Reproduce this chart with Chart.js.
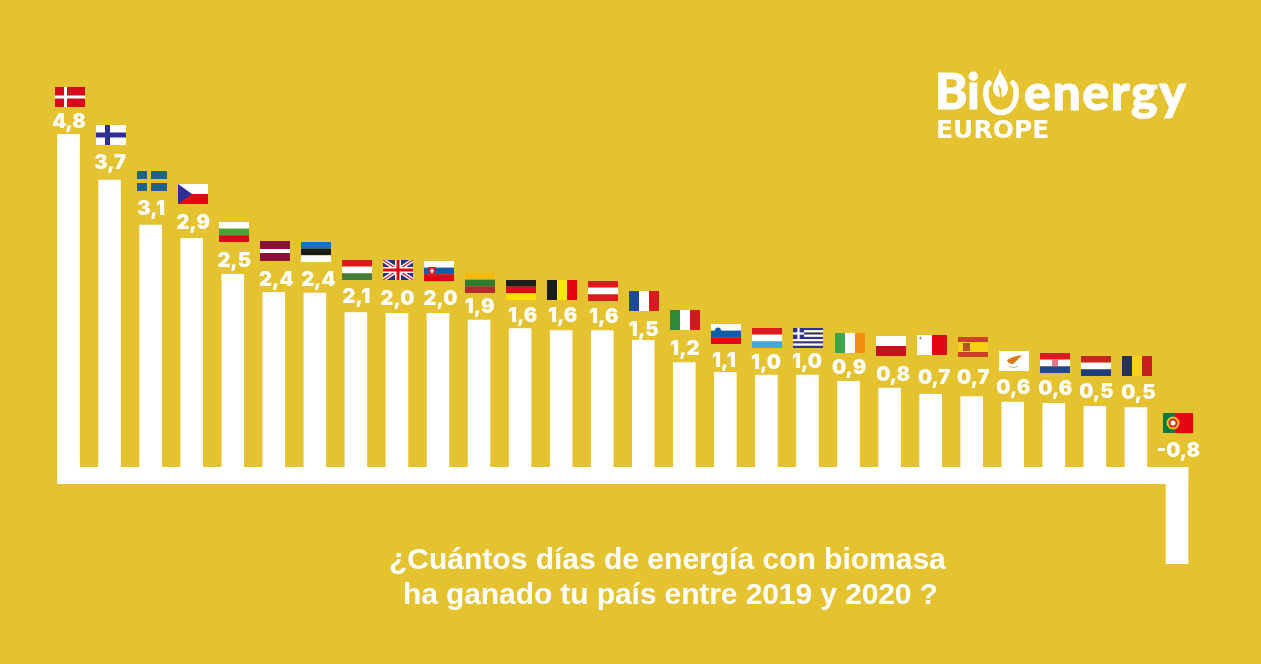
<!DOCTYPE html>
<html>

<head>
    <title>Bioenergy Europe</title>
    <style type="text/css">
        body {
            margin: 0;
            background: #E4C230;
        }

        #wrap {
            position: relative;
            width: 1261px;
            height: 664px;
            overflow: hidden;
        }

        .pregunta {
            position: absolute;
            color: #fff;
            font: bold 30px 'Liberation Sans', sans-serif;
            white-space: nowrap;
        }

        .logo {
            position: absolute;
            color: #fff;
            font-family: Lato, sans-serif;
            white-space: nowrap;
            font-weight: 900;
            -webkit-text-stroke: 1px #fff;
        }
    </style>
    <script src="https://cdn.jsdelivr.net/npm/chart.js@4/dist/chart.umd.js"></script>
</head>

<body>
    <div id="wrap">
        <canvas id="chartContainer" width="1261" height="664"></canvas>
        <div class="pregunta" style="left:389px; top:542px;">¿Cuántos días de energía con biomasa</div>
        <div class="pregunta" style="left:403px; top:577px; letter-spacing:-0.1px;">ha ganado tu país entre 2019 y 2020 ?</div>
        <div class="logo" style="left:935px; top:61px; font-size:49px;">Bi</div>
        <div class="logo" style="left:1024px; top:61px; font-size:50px; letter-spacing:1.6px;">energy</div>
        <div class="logo" style="left:936px; top:115px; font-size:25px; font-family:'DejaVu Sans'; font-weight:bold; -webkit-text-stroke:0;">EUROPE</div>
        <svg style="position:absolute; left:976px; top:64px;" width="50" height="56" viewBox="0 0 50 56">
            <path d="M13 19 C7 24 8.5 48.5 25 48.5 C41.5 48.5 43 24 37 19" fill="none" stroke="#fff" stroke-width="5.5" stroke-linecap="round" />
            <path d="M24 5 C26 12 32 17 32 24 C32 30 28 33 25.5 33 L25.5 25 L22 20 L24 33 C20 33 17 29 17 24 C17 17 23 12 24 5 Z" fill="#fff" />
        </svg>
    </div>

    <script>
        var paises = ['DK', 'FI', 'SE', 'CZ', 'BG', 'LV', 'EE', 'HU', 'UK', 'SK', 'LT', 'DE', 'BE', 'AT', 'FR', 'IT', 'SI', 'LU', 'GR', 'IE', 'PL', 'MT', 'ES', 'CY', 'HR', 'NL', 'RO', 'PT'];

        // what is printed above each bar
        var diasGanados = ['4,8', '3,7', '3,1', '2,9', '2,5', '2,4', '2,4', '2,1', '2,0', '2,0', '1,9', '1,6', '1,6', '1,6', '1,5', '1,2', '1,1', '1,0', '1,0', '0,9', '0,8', '0,7', '0,7', '0,6', '0,6', '0,5', '0,5', '-0,8'];

        // bar lengths as drawn in the picture. They do not follow the printed
        // numbers, so they are read off separately, with Denmark = 4.8 as the unit
        var largoBarra = [4.80, 4.14, 3.49, 3.30, 2.78, 2.52, 2.51, 2.23, 2.22, 2.22, 2.12, 2.00, 1.97, 1.97, 1.83, 1.51, 1.37, 1.33, 1.33, 1.24, 1.14, 1.05, 1.02, 0.94, 0.92, 0.88, 0.86, -1.40];

        // thick base line under the bars, same unit
        var fondoEje = -0.245;

        // label centre above the bar top, flag top above label centre (px)
        var altoEtiqueta = [13, 18, 17, 17, 15, 14, 14, 17, 15, 15, 14, 14, 16, 15, 11, 15, 12, 13, 14, 14, 14, 18, 20, 15, 16, 15, 16, 17];
        var altoBandera = [34, 37, 37, 37, 37, 37, 37, 35, 38, 37, 33, 34, 34, 34, 38, 37, 36, 34, 33, 34, 38, 41, 39, 36, 34, 35, 35, 37];
        var desvioEtiqueta = [0, 0, 0, 1, 1, 2, 3, 0, 0, 2, 0, 2, 1, 1, 0, 0, -2, -1, -1, 0, 3, 3, 1, 0, 1, 1, 2, 1];

        var AZUL = '#2E3192', BLANCO = '#fff';

        function franjasH(c, x, y, w, h, colores) {
            colores.forEach((color, i) => {
                c.fillStyle = color;
                c.fillRect(x, y + i * h / colores.length, w, h / colores.length);
            });
        }

        function franjasV(c, x, y, w, h, colores) {
            colores.forEach((color, i) => {
                c.fillStyle = color;
                c.fillRect(x + i * w / colores.length, y, w / colores.length, h);
            });
        }

        function cruz(c, x, y, w, h, fondo, color, cx, grosor) {
            c.fillStyle = fondo;
            c.fillRect(x, y, w, h);
            c.fillStyle = color;
            c.fillRect(x + cx, y, grosor, h);
            c.fillRect(x, y + h / 2 - grosor / 2, w, grosor);
        }

        function linea(c, x0, y0, x1, y1, color, ancho) {
            c.strokeStyle = color;
            c.lineWidth = ancho;
            c.beginPath();
            c.moveTo(x0, y0);
            c.lineTo(x1, y1);
            c.stroke();
        }

        function escudo(c, x, y, color, interior) {
            c.fillStyle = color;
            c.beginPath();
            c.moveTo(x - 3.5, y - 4);
            c.lineTo(x + 3.5, y - 4);
            c.lineTo(x + 3.5, y + 1);
            c.quadraticCurveTo(x + 3, y + 4, x, y + 5);
            c.quadraticCurveTo(x - 3, y + 4, x - 3.5, y + 1);
            c.closePath();
            c.fill();
            c.fillStyle = interior;
            c.fillRect(x - 0.7, y - 2.5, 1.4, 5);
            c.fillRect(x - 2, y - 1, 4, 1.4);
        }

        var banderas = {
            DK: (c, x, y, w, h) => cruz(c, x, y, w, h, '#D8091B', BLANCO, 9, 3),
            FI: (c, x, y, w, h) => cruz(c, x, y, w, h, BLANCO, AZUL, 9, 5),
            SE: (c, x, y, w, h) => cruz(c, x, y, w, h, '#1F5F8F', '#E4C230', 10, 4),
            CZ: (c, x, y, w, h) => {
                franjasH(c, x, y, w, h, [BLANCO, '#E30613']);
                c.fillStyle = AZUL;
                c.beginPath();
                c.moveTo(x, y);
                c.lineTo(x + 14, y + h / 2);
                c.lineTo(x, y + h);
                c.fill();
            },
            BG: (c, x, y, w, h) => franjasH(c, x, y, w, h, [BLANCO, '#43A63A', '#D8091B']),
            LV: (c, x, y, w, h) => {
                franjasH(c, x, y, w, h, ['#8A1234', '#8A1234', BLANCO, '#8A1234', '#8A1234']);
            },
            EE: (c, x, y, w, h) => franjasH(c, x, y, w, h, ['#0A78BE', '#1A1A18', BLANCO]),
            HU: (c, x, y, w, h) => franjasH(c, x, y, w, h, ['#DB1A20', BLANCO, '#3F7F3A']),
            UK: (c, x, y, w, h) => {
                c.fillStyle = '#2B2F7E';
                c.fillRect(x, y, w, h);
                c.save();
                c.beginPath();
                c.rect(x, y, w, h);
                c.clip();
                linea(c, x, y, x + w, y + h, BLANCO, 4);
                linea(c, x + w, y, x, y + h, BLANCO, 4);
                linea(c, x, y, x + w, y + h, '#D8242A', 1.4);
                linea(c, x + w, y, x, y + h, '#D8242A', 1.4);
                c.restore();
                c.fillStyle = BLANCO;
                c.fillRect(x + 12, y, 6, h);
                c.fillRect(x, y + 7, w, 6);
                c.fillStyle = '#E30613';
                c.fillRect(x + 13.5, y, 3, h);
                c.fillRect(x, y + 8.5, w, 3);
            },
            SK: (c, x, y, w, h) => {
                franjasH(c, x, y, w, h, [BLANCO, '#0F5CA8', '#E30613']);
                escudo(c, x + 8, y + 10, '#DB1A20', BLANCO);
            },
            LT: (c, x, y, w, h) => franjasH(c, x, y, w, h, ['#F2B90F', '#2F7D32', '#B22A2E']),
            DE: (c, x, y, w, h) => franjasH(c, x, y, w, h, ['#1D1D1B', '#DB0A16', '#FFDD00']),
            BE: (c, x, y, w, h) => franjasV(c, x, y, w, h, ['#1D1D1B', '#FFE800', '#E30613']),
            AT: (c, x, y, w, h) => franjasH(c, x, y, w, h, ['#DB1A20', BLANCO, '#DB1A20']),
            FR: (c, x, y, w, h) => franjasV(c, x, y, w, h, ['#1C4A9C', BLANCO, '#DB1A20']),
            IT: (c, x, y, w, h) => franjasV(c, x, y, w, h, ['#2F8A3E', BLANCO, '#D8141E']),
            SI: (c, x, y, w, h) => {
                franjasH(c, x, y, w, h, [BLANCO, '#0F5CA8', '#E30613']);
                c.fillStyle = '#0F5CA8';
                c.beginPath();
                c.arc(x + 7, y + 6.5, 3, 0, Math.PI * 2);
                c.fill();
            },
            LU: (c, x, y, w, h) => franjasH(c, x, y, w, h, ['#DB1A20', BLANCO, '#3FA9DE']),
            GR: (c, x, y, w, h) => {
                franjasH(c, x, y, w, h, [AZUL, BLANCO, AZUL, BLANCO, AZUL, BLANCO, AZUL, BLANCO, AZUL]);
                c.fillStyle = AZUL;
                c.fillRect(x, y, 11, 11);
                c.fillStyle = BLANCO;
                c.fillRect(x + 4.4, y, 2.2, 11);
                c.fillRect(x, y + 4.4, 11, 2.2);
            },
            IE: (c, x, y, w, h) => franjasV(c, x, y, w, h, ['#3BA54A', BLANCO, '#F28C0F']),
            PL: (c, x, y, w, h) => franjasH(c, x, y, w, h, [BLANCO, '#C8101C']),
            MT: (c, x, y, w, h) => {
                franjasV(c, x, y, w, h, [BLANCO, '#E30613']);
                c.fillStyle = '#9A9A9A';
                c.fillRect(x + 2, y + 2.5, 3, 1);
                c.fillRect(x + 3, y + 1.5, 1, 3);
            },
            ES: (c, x, y, w, h) => {
                franjasH(c, x, y, w, h, ['#CC4128', '#F7D117', '#F7D117', '#CC4128']);
                c.fillStyle = '#B4561E';
                c.fillRect(x + 5, y + 6, 7, 8);
            },
            CY: (c, x, y, w, h) => {
                c.fillStyle = BLANCO;
                c.fillRect(x, y, w, h);
                c.fillStyle = '#D97B15';
                c.beginPath();
                c.moveTo(x + 8, y + 9);
                c.quadraticCurveTo(x + 14, y + 5, x + 23, y + 4);
                c.quadraticCurveTo(x + 18, y + 10, x + 14, y + 13);
                c.quadraticCurveTo(x + 9, y + 13, x + 8, y + 9);
                c.fill();
                linea(c, x + 10, y + 15, x + 14, y + 17, '#A9B8A0', 1);
                linea(c, x + 14, y + 17, x + 19, y + 15, '#A9B8A0', 1);
            },
            HR: (c, x, y, w, h) => {
                franjasH(c, x, y, w, h, ['#DB1A20', BLANCO, '#1F4A8E']);
                c.fillStyle = '#E4788A';
                c.fillRect(x + 12, y + 6, 6, 7);
            },
            NL: (c, x, y, w, h) => franjasH(c, x, y, w, h, ['#C4281E', BLANCO, '#1E3F7F']),
            RO: (c, x, y, w, h) => franjasV(c, x, y, w, h, ['#252F60', '#FFD21A', '#C41E1E']),
            PT: (c, x, y, w, h) => {
                c.fillStyle = '#E30613';
                c.fillRect(x, y, w, h);
                c.fillStyle = '#0B7A3A';
                c.fillRect(x, y, 12, h);
                c.fillStyle = '#F2C81A';
                c.beginPath();
                c.arc(x + 10, y + 10, 6.5, 0, Math.PI * 2);
                c.fill();
                c.fillStyle = '#D8242A';
                c.beginPath();
                c.arc(x + 10, y + 10, 4.5, 0, Math.PI * 2);
                c.fill();
                c.fillStyle = BLANCO;
                c.beginPath();
                c.arc(x + 10, y + 10, 2.5, 0, Math.PI * 2);
                c.fill();
            }
        };

        // flag and number on top of each bar
        var rotulos = {
            id: 'rotulos',
            afterDatasetsDraw(chart) {
                var c = chart.ctx;
                var xs = chart.scales.x, ys = chart.scales.y;
                c.save();
                paises.forEach((pais, i) => {
                    var px = xs.getPixelForValue(i);
                    var tope = ys.getPixelForValue(Math.max(largoBarra[i], 0));
                    var yEtiqueta = tope - altoEtiqueta[i];
                    banderas[pais](c, Math.round(px + 1 - 15), Math.round(yEtiqueta - altoBandera[i]), 30, 20);
                    c.fillStyle = BLANCO;
                    c.font = "900 20px Inter, sans-serif";
                    c.textAlign = 'center';
                    c.textBaseline = 'middle';
                    c.fillText(diasGanados[i], px + desvioEtiqueta[i] + 0.5, yEtiqueta + 1.5);
                });
                c.restore();
            }
        };

        new Chart(document.getElementById('chartContainer'), {
            data: {
                labels: paises,
                datasets: [
                    {
                        type: 'line',
                        data: paises.map(() => fondoEje / 2),
                        borderColor: BLANCO,
                        borderWidth: 17,
                        pointRadius: 0
                    },
                    {
                        type: 'bar',
                        data: paises.map(() => [fondoEje, 0]),
                        backgroundColor: BLANCO,
                        grouped: false,
                        categoryPercentage: 1,
                        barPercentage: 0.55
                    },
                    {
                        type: 'bar',
                        data: largoBarra,
                        backgroundColor: BLANCO,
                        grouped: false,
                        categoryPercentage: 1,
                        barPercentage: 0.55
                    }
                ]
            },
            options: {
                responsive: false,
                animation: false,
                devicePixelRatio: 1,
                layout: { padding: { left: 48, right: 63.5, top: 0, bottom: 0 } },
                plugins: {
                    legend: { display: false },
                    tooltip: { enabled: false }
                },
                scales: {
                    x: { display: false, offset: true },
                    y: { display: false, min: -2.84, max: 6.73 }
                }
            },
            plugins: [rotulos]
        });
    </script>
</body>

</html>
